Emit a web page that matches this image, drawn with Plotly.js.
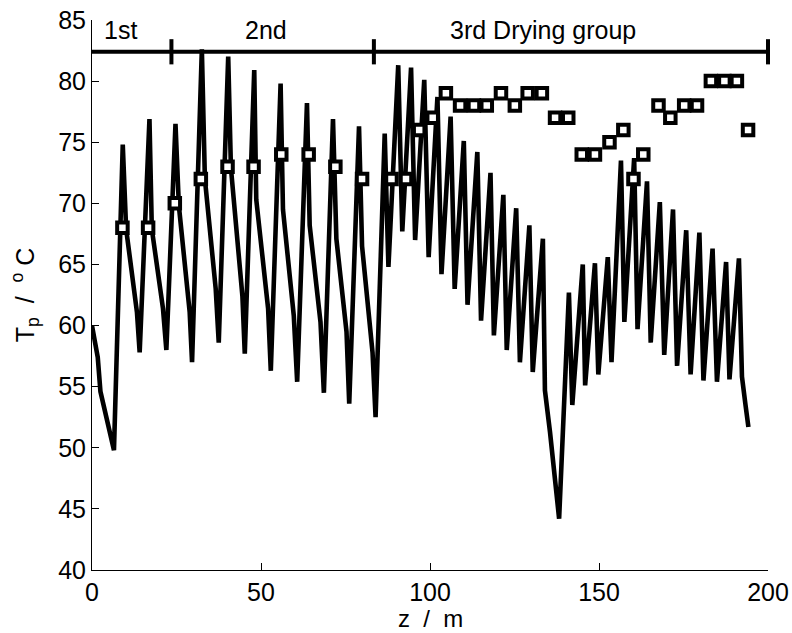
<!DOCTYPE html>
<html>
<head>
<meta charset="utf-8">
<script src="https://cdn.plot.ly/plotly-3.0.1.min.js"></script>
<style>html,body{margin:0;padding:0;background:#fff;}#chart{width:792px;height:633px;}</style>
</head>
<body>
<div id="chart"></div>
<script>
// Simulated paper temperature along the machine (z in m, Tp in degC)
var zLine = [0, 1.7, 2.5, 5.2, 6.5,
  9.1, 10.1, 13.3, 14.1,
  17.0, 17.7, 21.0, 22.0,
  24.7, 25.7, 28.9, 29.6,
  32.5, 33.4, 36.6, 37.5,
  40.3, 41.1, 44.5, 45.2,
  48.0, 48.6, 52.1, 52.9,
  55.8, 56.5, 59.7, 60.7,
  63.6, 64.4, 67.6, 68.6,
  71.3, 72.3, 75.3, 76.1,
  79.0, 79.9, 83.0, 83.9,
  86.6, 87.7, 90.6, 91.8, 94.4, 95.6, 98.3, 99.6, 102.2, 103.4,
  106.1, 107.3, 110.0, 111.1, 114.0, 115.1, 117.9, 118.9, 121.7, 122.7,
  125.5, 126.6, 129.4, 130.4, 133.4, 134.0, 135.5, 137.0, 138.2,
  141.1, 142.1, 145.2, 145.9, 148.8, 149.8, 152.6, 153.7,
  156.5, 157.5, 160.4, 161.4, 164.2, 165.3, 168.0, 169.3, 171.9, 173.1,
  175.8, 177.1, 179.7, 180.9, 183.6, 184.9, 187.6, 188.6, 191.4,
  192.3, 193.3, 194.2];
var tLine = [60.0, 57.4, 54.6, 51.6, 49.8,
  74.8, 67.9, 61.1, 57.8,
  76.9, 67.9, 61.4, 58.0,
  76.5, 69.8, 61.1, 57.0,
  82.6, 72.0, 63.0, 58.6,
  82.0, 72.9, 62.4, 57.7,
  80.9, 70.3, 61.4, 56.3,
  79.8, 69.5, 60.8, 55.4,
  78.2, 68.2, 60.3, 54.5,
  76.9, 67.1, 59.5, 53.6,
  76.3, 66.5, 57.8, 52.5,
  75.7, 64.8, 81.3, 67.7, 81.1, 67.0, 80.1, 65.6, 78.7, 64.2,
  77.1, 63.0, 75.1, 61.7, 74.2, 60.4, 72.5, 59.2, 70.7, 58.0,
  69.6, 57.0, 68.2, 56.2, 67.1, 54.7, 51.3, 47.8, 44.2,
  62.7, 53.5, 65.0, 55.1, 65.1, 56.0, 65.6, 57.0,
  73.5, 60.3, 73.7, 59.7, 71.8, 58.6, 70.1, 57.6, 69.5, 56.7,
  67.8, 56.0, 67.6, 55.5, 66.3, 55.4, 65.2, 55.6, 65.5,
  55.8, 53.6, 51.7];

// Measured values (squares)
var zMeas = [9.0, 16.6, 24.5, 32.2, 40.1, 47.8, 56.0, 64.1, 72.0, 79.9,
  88.6, 92.9, 96.8, 100.8, 104.7, 108.9, 113.0, 116.8, 121.0, 125.1,
  128.9, 133.1, 137.0, 140.9, 144.9, 148.8, 153.1, 157.2, 160.2, 163.1,
  167.6, 171.1, 175.2, 179.0, 183.1, 187.1, 190.8, 194.1];
var tMeas = [68, 68, 70, 72, 73, 73, 74, 74, 73, 72,
  72, 72, 76, 77, 79, 78, 78, 78, 79, 78,
  79, 79, 77, 77, 74, 74, 75, 76, 72, 74,
  78, 77, 78, 78, 80, 80, 80, 76];

// Drying groups
var groupStart = 0;
var groupBounds = [23.5, 83.4, 200];
var groupLevel = 82.4;
var groupLabels = ['1st', '2nd', '3rd Drying group'];
var groupLabelZ = [8.4, 51.6, 133.4];
var groupLabelT = 84.2;

var xTicks = [0, 50, 100, 150, 200];
var yTicks = [40, 45, 50, 55, 60, 65, 70, 75, 80, 85];
var xTitle = 'z \u00a0/ \u00a0m';
var yTitle = 'T<sub>p</sub> \u00a0/ \u00a0<sup>o</sup> C';

var FONT = 'Liberation Sans, Arial, Helvetica, sans-serif';
var FS = 25;

var traces = [
  {x: [groupStart, groupBounds[groupBounds.length - 1]], y: [groupLevel, groupLevel],
   mode: 'lines', line: {color: '#000', width: 4}, hoverinfo: 'skip', showlegend: false},
  {x: groupBounds, y: groupBounds.map(function(){return groupLevel;}),
   mode: 'markers', cliponaxis: false,
   marker: {symbol: 'line-ns', size: 18, color: '#000', line: {color: '#000', width: 4}},
   hoverinfo: 'skip', showlegend: false},
  {x: zLine, y: tLine, mode: 'lines', line: {color: '#000', width: 4.6, shape: 'linear'},
   showlegend: false},
  {x: zMeas, y: tMeas, mode: 'markers', cliponaxis: false,
   marker: {symbol: 'square', size: 10.5, color: '#fff', line: {color: '#000', width: 4}},
   showlegend: false}
];

var annotations = groupLabels.map(function(t, i){
  return {x: groupLabelZ[i], y: groupLabelT, xref: 'x', yref: 'y', text: t,
    showarrow: false, xanchor: 'center', yanchor: 'middle',
    font: {family: FONT, size: FS, color: '#000'}};
});
annotations.push({x: 0.5, y: 0, xref: 'paper', yref: 'paper', text: xTitle,
  showarrow: false, xanchor: 'center', yanchor: 'top', yshift: -34,
  borderpad: 0,
  font: {family: FONT, size: 24, color: '#000'}});

var layout = {
  width: 792, height: 633,
  margin: {l: 92, r: 24, t: 20, b: 63, pad: 0},
  paper_bgcolor: '#fff', plot_bgcolor: '#fff',
  font: {family: FONT, size: FS, color: '#000'},
  showlegend: false,
  xaxis: {range: [0, 200], tickvals: xTicks, ticktext: xTicks.map(String),
    ticks: 'inside', ticklen: 7, tickwidth: 1, tickcolor: '#000',
    showline: true, linecolor: '#000', linewidth: 1, mirror: false,
    showgrid: false, zeroline: false,
    tickfont: {family: FONT, size: FS, color: '#000'}},
  yaxis: {range: [40, 85], tickvals: yTicks, ticktext: yTicks.map(String),
    ticks: 'inside', ticklen: 7, tickwidth: 1, tickcolor: '#000',
    showline: true, linecolor: '#000', linewidth: 1, mirror: false,
    showgrid: false, zeroline: false,
    tickfont: {family: FONT, size: FS, color: '#000'},
    title: {text: yTitle, font: {family: FONT, size: FS, color: '#000'}, standoff: 16}},
  annotations: annotations
};

Plotly.newPlot('chart', traces, layout, {displayModeBar: false, staticPlot: true});
</script>
</body>
</html>
